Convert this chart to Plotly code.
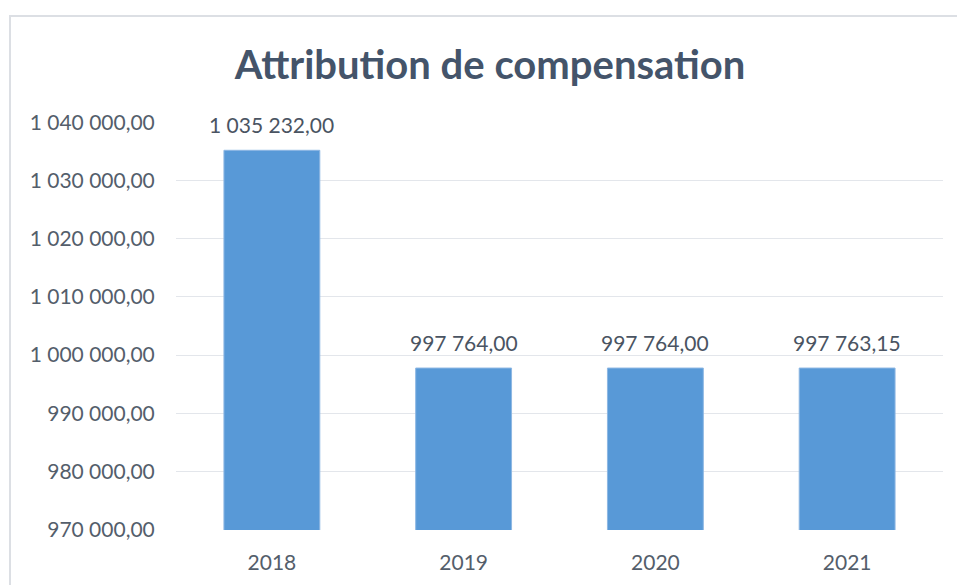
import plotly.graph_objects as go

years = ["2018", "2019", "2020", "2021"]
values = [1035232.00, 997764.00, 997764.00, 997763.15]
y_range = [969900, 1040100]
y_ticks = [970000, 980000, 990000, 1000000, 1010000, 1020000, 1030000, 1040000]
title_text = "Attribution de compensation"

FONT = "Lato"
TXT = "#545E6B"

fig = go.Figure()
fig.add_trace(go.Bar(
    x=years, y=values,
    marker=dict(color="#5899D7", line=dict(color="#8DB7E3", width=1)),
))

fig.update_layout(
    width=957, height=585,
    margin=dict(l=176, r=14, t=122, b=55, autoexpand=False),
    paper_bgcolor="white", plot_bgcolor="white",
    separators=", ",
    bargap=0.5,
    showlegend=False,
    title=dict(text=title_text, x=0.512, xanchor="center",
               y=1 - 65 / 585, yanchor="middle",
               font=dict(family=FONT, size=40, color="#44546A", weight="bold")),
    xaxis=dict(
        type="category", range=[-0.5, len(years) - 0.5], automargin=False,
        showgrid=False, showline=False, zeroline=False,
        ticks="outside", ticklen=14, tickcolor="rgba(0,0,0,0)",
        tickfont=dict(family=FONT, size=21, color=TXT),
    ),
    yaxis=dict(
        range=y_range, tickvals=y_ticks, tickformat=",.2f", automargin=False,
        showgrid=True, gridcolor="#E3E6EB", gridwidth=1,
        zeroline=False, showline=False,
        ticks="outside", ticklen=16, tickcolor="rgba(0,0,0,0)",
        tickfont=dict(family=FONT, size=21, color=TXT),
    ),
    shapes=[dict(
        type="rect", xref="paper", yref="paper",
        x0=(10 - 176) / 767, x1=(1000 - 176) / 767,
        y0=(530 - 640) / 408, y1=(530 - 16) / 408,
        line=dict(color="#DCDFE4", width=2), fillcolor="rgba(0,0,0,0)",
        layer="below",
    )],
)

for i, yv in enumerate(values):
    fig.add_annotation(
        x=i, y=yv, xref="x", yref="y",
        text=f"{yv:,.2f}".replace(",", " ").replace(".", ","),
        showarrow=False, yanchor="middle", yshift=26,
        font=dict(family=FONT, size=21, color="#4A5462"),
    )

fig.write_html("out.html", post_script="document.body.style.margin='0px';",
               config={"displayModeBar": False})
